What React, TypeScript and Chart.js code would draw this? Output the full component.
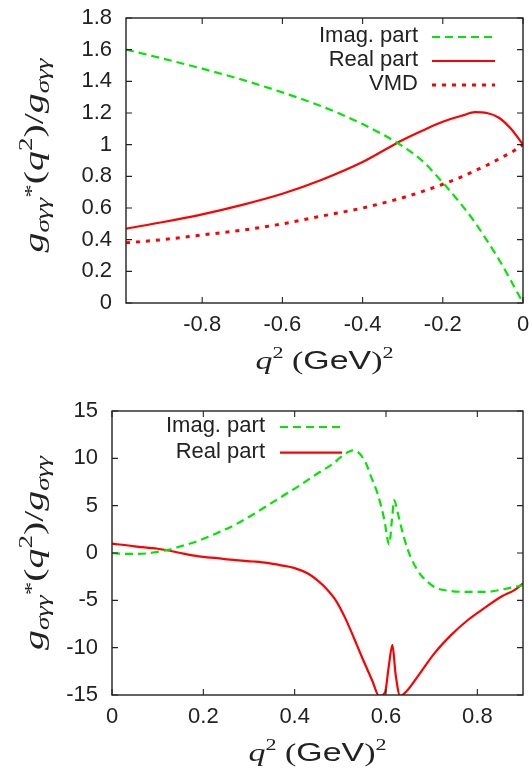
import React, { useEffect, useRef } from "react";
import { Chart, registerables } from "chart.js";

Chart.register(...registerables);

// ---------- data: top panel (space-like q^2) ----------
const topQ2 = [-0.99, -0.9, -0.8, -0.7, -0.6, -0.5, -0.4, -0.3, -0.25, -0.2, -0.15, -0.12, -0.09, -0.06, -0.03, 0];
const topImag = [1.6, 1.545, 1.48, 1.41, 1.33, 1.24, 1.13, 0.99, 0.895, 0.76, 0.61, 0.51, 0.395, 0.275, 0.14, 0.0];
const topReal = [0.47, 0.51, 0.56, 0.62, 0.69, 0.78, 0.89, 1.03, 1.09, 1.145, 1.185, 1.205, 1.2, 1.17, 1.1, 1.0];
const topVmd = [0.38, 0.4, 0.43, 0.46, 0.5, 0.55, 0.6, 0.665, 0.705, 0.75, 0.8, 0.835, 0.87, 0.91, 0.95, 1.0];
const topXTicks = [-0.8, -0.6, -0.4, -0.2, 0];
const topYTicks = [0, 0.2, 0.4, 0.6, 0.8, 1, 1.2, 1.4, 1.6, 1.8];

// ---------- data: bottom panel (time-like q^2) ----------
const botQ2Imag = [0, 0.03, 0.06, 0.09, 0.12, 0.15, 0.19, 0.23, 0.27, 0.31, 0.34, 0.38, 0.41, 0.45, 0.486, 0.5, 0.515, 0.527, 0.54, 0.555, 0.567, 0.582, 0.596, 0.607, 0.613, 0.618, 0.625, 0.633, 0.648, 0.67, 0.69, 0.71, 0.74, 0.77, 0.82, 0.86, 0.9];
const botImag = [0, -0.1, -0.1, 0.05, 0.3, 0.7, 1.3, 2.1, 3.0, 4.1, 5.0, 6.2, 7.1, 8.4, 9.5, 10.1, 10.6, 10.85, 10.6, 9.6, 8.1, 6.2, 3.6, 0.9, 3.5, 5.6, 4.4, 2.8, 0.3, -1.9, -3.0, -3.7, -4.0, -4.1, -4.1, -3.8, -3.4];
const botQ2Real = [0, 0.05, 0.1, 0.12, 0.15, 0.19, 0.23, 0.27, 0.31, 0.34, 0.37, 0.4, 0.43, 0.45, 0.47, 0.49, 0.51, 0.53, 0.55, 0.57, 0.585, 0.598, 0.606, 0.614, 0.621, 0.631, 0.645, 0.67, 0.706, 0.743, 0.78, 0.816, 0.853, 0.882, 0.9];
const botReal = [1.0, 0.7, 0.45, 0.3, 0.0, -0.35, -0.55, -0.75, -0.9, -1.05, -1.3, -1.6, -2.2, -2.9, -3.8, -5.0, -6.8, -9.0, -11.3, -13.5, -15.1, -14.7, -12.0, -9.7, -12.8, -15.1, -14.6, -13.0, -10.6, -8.65, -7.05, -5.8, -4.6, -3.9, -3.2];
const botXTicks = [0, 0.2, 0.4, 0.6, 0.8];
const botYTicks = [-15, -10, -5, 0, 5, 10, 15];

const legendLabels = ["Imag. part", "Real part", "VMD"];

// ---------- styles ----------
const SANS = '"Liberation Sans", Arial, Helvetica, sans-serif';
const SERIF = '"Liberation Serif", "Times New Roman", serif';
const TEXT = "#222";
const GREEN = "#00e800";
const RED = "#ff0000";

type Seg = { t: string; font: string; dy: number };

function drawRich(ctx: CanvasRenderingContext2D, segs: Seg[], cx: number, cy: number, rot: number, targetLen: number) {
  ctx.save();
  let total = 0;
  const widths = segs.map((s) => {
    ctx.font = s.font;
    const w = ctx.measureText(s.t).width;
    total += w;
    return w;
  });
  ctx.translate(cx, cy);
  ctx.rotate(rot);
  ctx.scale(targetLen / total, 1);
  ctx.fillStyle = TEXT;
  ctx.textAlign = "left";
  ctx.textBaseline = "alphabetic";
  let x = -total / 2;
  segs.forEach((s, i) => {
    ctx.font = s.font;
    ctx.fillText(s.t, x, s.dy);
    x += widths[i];
  });
  ctx.restore();
}

const yTitleSegs: Seg[] = [
  { t: "g", font: `italic 28px ${SERIF}`, dy: 0 },
  { t: "σγγ", font: `italic 19px ${SERIF}`, dy: 6 },
  { t: "*", font: `19px ${SERIF}`, dy: -5 },
  { t: "(", font: `28px ${SERIF}`, dy: 0 },
  { t: "q", font: `italic 28px ${SERIF}`, dy: 0 },
  { t: "2", font: `19px ${SERIF}`, dy: -11 },
  { t: ")", font: `28px ${SERIF}`, dy: 0 },
  { t: "/", font: `28px ${SERIF}`, dy: 0 },
  { t: "g", font: `italic 28px ${SERIF}`, dy: 0 },
  { t: "σγγ", font: `italic 19px ${SERIF}`, dy: 6 },
];

const xTitleSegs: Seg[] = [
  { t: "q", font: `italic 26px ${SERIF}`, dy: 0 },
  { t: "2", font: `17px ${SERIF}`, dy: -11 },
  { t: " ", font: `26px ${SERIF}`, dy: 0 },
  { t: "(", font: `26px ${SERIF}`, dy: 0 },
  { t: "GeV", font: `26px ${SANS}`, dy: 0 },
  { t: ")", font: `26px ${SERIF}`, dy: 0 },
  { t: "2", font: `17px ${SERIF}`, dy: -11 },
];

type PanelOpts = {
  xMin: number;
  xMax: number;
  yMin: number;
  yMax: number;
  xTicks: number[];
  yTicks: number[];
  padTop: number;
  yAxisWidth: number;
  xAxisHeight: number;
  yTitleShift: number;
  legend: { textRight: (a: any) => number; s0: (a: any) => number; s1: (a: any) => number; row0: number; rowStep: number };
  datasets: any[];
};

function fmt(v: number) {
  return String(Math.round(v * 1000) / 1000);
}

function buildConfig(o: PanelOpts): any {
  const decor = {
    id: "decor",
    afterDatasetsDraw(chart: any) {
      const { ctx, chartArea } = chart;
      const { left, right, top, bottom } = chartArea;
      const xs = chart.scales.x;
      const ys = chart.scales.y;
      ctx.save();
      ctx.strokeStyle = TEXT;
      ctx.lineWidth = 1.4;
      ctx.strokeRect(left, top, right - left, bottom - top);
      ctx.beginPath();
      const tl = 6;
      xs.ticks.forEach((t: any) => {
        const px = xs.getPixelForValue(t.value);
        ctx.moveTo(px, bottom);
        ctx.lineTo(px, bottom - tl);
        ctx.moveTo(px, top);
        ctx.lineTo(px, top + tl);
      });
      ys.ticks.forEach((t: any) => {
        const py = ys.getPixelForValue(t.value);
        ctx.moveTo(left, py);
        ctx.lineTo(left + tl, py);
        ctx.moveTo(right, py);
        ctx.lineTo(right - tl, py);
      });
      ctx.lineWidth = 1.1;
      ctx.stroke();
      ctx.restore();
    },
    afterDraw(chart: any) {
      const { ctx, chartArea } = chart;
      const { left, right, top, bottom } = chartArea;
      drawRich(ctx, xTitleSegs, (left + right) / 2, bottom + 66, 0, 138);
      drawRich(ctx, yTitleSegs, 43, (top + bottom) / 2 + o.yTitleShift, -Math.PI / 2, 194);
      ctx.save();
      ctx.font = `22px ${SANS}`;
      ctx.fillStyle = TEXT;
      ctx.textAlign = "right";
      ctx.textBaseline = "middle";
      chart.data.datasets.forEach((ds: any, i: number) => {
        const y = top + o.legend.row0 + i * o.legend.rowStep;
        ctx.fillText(ds.label, o.legend.textRight(chartArea), y);
        ctx.save();
        ctx.strokeStyle = ds.borderColor;
        ctx.lineWidth = ds.borderWidth;
        ctx.setLineDash(ds.borderDash || []);
        ctx.beginPath();
        ctx.moveTo(o.legend.s0(chartArea), y + 1);
        ctx.lineTo(o.legend.s1(chartArea), y + 1);
        ctx.stroke();
        ctx.restore();
      });
      ctx.restore();
    },
  };

  return {
    type: "line",
    data: { datasets: o.datasets },
    options: {
      responsive: false,
      maintainAspectRatio: false,
      devicePixelRatio: 1,
      animation: false,
      events: [],
      layout: { padding: { top: o.padTop, right: 9, left: 0, bottom: 0 } },
      plugins: { legend: { display: false }, tooltip: { enabled: false } },
      elements: { point: { radius: 0 } },
      scales: {
        x: {
          type: "linear",
          min: o.xMin,
          max: o.xMax,
          afterBuildTicks: (s: any) => {
            s.ticks = o.xTicks.map((v) => ({ value: v }));
          },
          afterFit: (s: any) => {
            s.height = o.xAxisHeight;
            s.paddingLeft = 0;
            s.paddingRight = 0;
          },
          grid: { display: false, drawTicks: false },
          border: { display: false },
          ticks: {
            font: { family: SANS, size: 22 },
            color: TEXT,
            padding: 9,
            maxRotation: 0,
            autoSkip: false,
            callback: (v: any) => fmt(Number(v)),
          },
        },
        y: {
          type: "linear",
          min: o.yMin,
          max: o.yMax,
          afterBuildTicks: (s: any) => {
            s.ticks = o.yTicks.map((v) => ({ value: v }));
          },
          afterFit: (s: any) => {
            s.width = o.yAxisWidth;
            s.paddingTop = 0;
            s.paddingBottom = 0;
          },
          grid: { display: false, drawTicks: false },
          border: { display: false },
          ticks: {
            font: { family: SANS, size: 22 },
            color: TEXT,
            padding: 14,
            autoSkip: false,
            callback: (v: any) => fmt(Number(v)),
          },
        },
      },
    },
    plugins: [decor],
  };
}

function series(xs: number[], ys: number[]) {
  return xs.map((x, i) => ({ x, y: ys[i] }));
}

const lineBase = {
  fill: false,
  pointRadius: 0,
  borderWidth: 2.2,
  cubicInterpolationMode: "monotone",
};

export default function App() {
  const topRef = useRef<HTMLCanvasElement>(null);
  const botRef = useRef<HTMLCanvasElement>(null);

  useEffect(() => {
    const top = new Chart(
      topRef.current as HTMLCanvasElement,
      buildConfig({
        xMin: -0.99,
        xMax: 0,
        yMin: 0,
        yMax: 1.8,
        xTicks: topXTicks,
        yTicks: topYTicks,
        padTop: 18,
        yAxisWidth: 126,
        xAxisHeight: 85,
        yTitleShift: -5,
        legend: {
          textRight: (a: any) => a.right - 105,
          s0: (a: any) => a.right - 91,
          s1: (a: any) => a.right - 28,
          row0: 18,
          rowStep: 24,
        },
        datasets: [
          { ...lineBase, label: legendLabels[0], data: series(topQ2, topImag), borderColor: GREEN, borderDash: [8, 5] },
          { ...lineBase, label: legendLabels[1], data: series(topQ2, topReal), borderColor: RED },
          { ...lineBase, label: legendLabels[2], data: series(topQ2, topVmd), borderColor: RED, borderDash: [4, 6], borderWidth: 3 },
        ],
      })
    );
    const bot = new Chart(
      botRef.current as HTMLCanvasElement,
      buildConfig({
        xMin: 0,
        xMax: 0.9,
        yMin: -15,
        yMax: 15,
        xTicks: botXTicks,
        yTicks: botYTicks,
        padTop: 23,
        yAxisWidth: 112,
        xAxisHeight: 81,
        yTitleShift: 0,
        legend: {
          textRight: (a: any) => a.left + 153,
          s0: (a: any) => a.left + 168,
          s1: (a: any) => a.left + 230,
          row0: 15,
          rowStep: 25.7,
        },
        datasets: [
          { ...lineBase, label: legendLabels[0], data: series(botQ2Imag, botImag), borderColor: GREEN, borderDash: [8, 5] },
          { ...lineBase, label: legendLabels[1], data: series(botQ2Real, botReal), borderColor: RED },
        ],
      })
    );
    return () => {
      top.destroy();
      bot.destroy();
    };
  }, []);

  return (
    <div style={{ position: "absolute", left: 0, top: 0, width: 532, height: 776, background: "#fff" }}>
      <canvas ref={topRef} width={532} height={388} style={{ display: "block", width: 532, height: 388 }} />
      <canvas ref={botRef} width={532} height={388} style={{ display: "block", width: 532, height: 388 }} />
    </div>
  );
}
